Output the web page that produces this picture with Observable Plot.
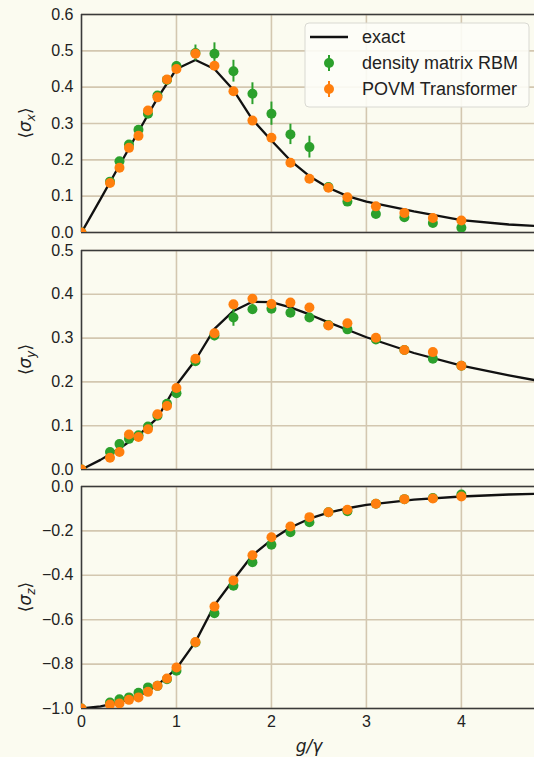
<!DOCTYPE html>
<html>
<head>
<meta charset="utf-8">
<script src="https://cdn.jsdelivr.net/npm/d3@7"></script>
<script src="https://cdn.jsdelivr.net/npm/@observablehq/plot@0.6"></script>
<style>
  html, body { margin: 0; padding: 0; background: #fbfbf0; }
  #chart { width: 534px; height: 757px; overflow: hidden; position: relative; }
  #chart svg { display: block; overflow: visible; }
</style>
</head>
<body>
<div id="chart"></div>
<script>
// ---- data ----
const xPts = [0, 0.3, 0.4, 0.5, 0.6, 0.7, 0.8, 0.9, 1.0, 1.2, 1.4, 1.6, 1.8, 2.0, 2.2, 2.4, 2.6, 2.8, 3.1, 3.4, 3.7, 4.0];
const xExact = [0, 0.2, 0.4, 0.6, 0.8, 1.0, 1.2, 1.4, 1.6, 1.8, 2.0, 2.2, 2.4, 2.6, 2.8, 3.0, 3.5, 4.0, 4.5, 5.0];

// <sigma_x>
const sxExact = [0, 0.092, 0.185, 0.278, 0.370, 0.450, 0.475, 0.450, 0.392, 0.311, 0.253, 0.198, 0.155, 0.123, 0.100, 0.085, 0.058, 0.034, 0.022, 0.015];
const sxRBM = [0, 0.140, 0.196, 0.242, 0.283, 0.327, 0.377, 0.420, 0.458, 0.494, 0.492, 0.444, 0.382, 0.327, 0.270, 0.235, 0.125, 0.085, 0.051, 0.042, 0.026, 0.013];
const sxRBMErr = [0.008, 0.01, 0.01, 0.01, 0.01, 0.01, 0.01, 0.01, 0.012, 0.022, 0.030, 0.030, 0.030, 0.032, 0.028, 0.030, 0.008, 0.008, 0.008, 0.008, 0.008, 0.008];
const sxPOVM = [0, 0.136, 0.178, 0.233, 0.266, 0.336, 0.372, 0.421, 0.450, 0.492, 0.459, 0.389, 0.308, 0.261, 0.192, 0.148, 0.123, 0.097, 0.072, 0.054, 0.040, 0.033];

// <sigma_y>
const syExact = [0, 0.022, 0.048, 0.078, 0.118, 0.193, 0.250, 0.321, 0.362, 0.383, 0.382, 0.370, 0.354, 0.336, 0.319, 0.302, 0.266, 0.237, 0.215, 0.195];
const syRBM = [0, 0.040, 0.058, 0.070, 0.078, 0.098, 0.123, 0.150, 0.174, 0.247, 0.306, 0.347, 0.366, 0.367, 0.358, 0.347, 0.330, 0.320, 0.297, 0.273, 0.253, 0.237];
const syRBMErr = [0.006, 0.008, 0.008, 0.008, 0.008, 0.008, 0.008, 0.008, 0.010, 0.010, 0.012, 0.020, 0.012, 0.010, 0.010, 0.010, 0.008, 0.008, 0.008, 0.008, 0.008, 0.008];
const syPOVM = [0, 0.027, 0.040, 0.080, 0.074, 0.092, 0.126, 0.145, 0.186, 0.253, 0.311, 0.377, 0.390, 0.378, 0.381, 0.370, 0.329, 0.334, 0.301, 0.273, 0.268, 0.237];

// <sigma_z>
const szExact = [-1.0, -0.990, -0.972, -0.945, -0.895, -0.820, -0.700, -0.535, -0.420, -0.310, -0.240, -0.185, -0.145, -0.118, -0.098, -0.083, -0.059, -0.045, -0.036, -0.030];
const szRBM = [-1.0, -0.973, -0.958, -0.950, -0.929, -0.905, -0.898, -0.868, -0.830, -0.703, -0.571, -0.447, -0.341, -0.262, -0.206, -0.161, -0.116, -0.111, -0.078, -0.057, -0.052, -0.036];
const szRBMErr = [0.01, 0.012, 0.012, 0.012, 0.012, 0.012, 0.012, 0.012, 0.012, 0.012, 0.015, 0.015, 0.015, 0.015, 0.012, 0.012, 0.01, 0.01, 0.01, 0.01, 0.01, 0.01];
const szPOVM = [-1.0, -0.982, -0.977, -0.961, -0.950, -0.925, -0.898, -0.865, -0.815, -0.701, -0.541, -0.423, -0.310, -0.229, -0.180, -0.138, -0.116, -0.105, -0.078, -0.057, -0.054, -0.045];

const xTicks = [0, 1, 2, 3, 4];
const sxTicks = [0, 0.1, 0.2, 0.3, 0.4, 0.5, 0.6];
const syTicks = [0, 0.1, 0.2, 0.3, 0.4, 0.5];
const szTicks = [-1.0, -0.8, -0.6, -0.4, -0.2, 0.0];
const legendLabels = ["exact", "density matrix RBM", "POVM Transformer"];

// ---- styles ----
const GREEN = "#2ca02c", ORANGE = "#ff7f0e";
const GRID = "#d3c7b0", FRAME = "#3a3a3a";
const FONT = "'Liberation Sans', Arial, sans-serif";

function fmt(d) { return d.toFixed(1).replace("-", "\u2212"); }

function panel({exact, rbm, rbmErr, povm, yDomain, yTicks, height, marginTop, marginBottom, showX, sub}) {
  const ex = xExact.map((x, i) => ({x, y: exact[i]}));
  const rb = xPts.map((x, i) => ({x, y: rbm[i], e: rbmErr[i]}));
  const pv = xPts.map((x, i) => ({x, y: povm[i]}));
  const svg = Plot.plot({
    width: 534, height, marginLeft: 81, marginRight: 0, marginTop, marginBottom,
    style: {background: "transparent", fontFamily: FONT, fontSize: "16px", color: "#222", overflow: "visible"},
    x: {domain: [0, 4.77], ticks: xTicks, tickSize: 0, tickPadding: 7, tickFormat: d => String(d), label: null, axis: showX ? "bottom" : null},
    y: {domain: yDomain, ticks: yTicks, tickSize: 0, tickPadding: 8, tickFormat: fmt, label: null},
    marks: [
      Plot.gridX(xTicks.filter(d => d > 0), {stroke: GRID, strokeOpacity: 1, strokeWidth: 1.6}),
      Plot.gridY(yTicks, {stroke: GRID, strokeOpacity: 1, strokeWidth: 1.6}),
      Plot.ruleX([0], {stroke: FRAME, strokeWidth: 1.6}),
      Plot.ruleY(yDomain, {stroke: FRAME, strokeWidth: 1.6}),
      Plot.line(ex, {x: "x", y: "y", stroke: "#111", strokeWidth: 2.3, clip: true}),
      Plot.ruleX(rb, {x: "x", y1: d => d.y - d.e, y2: d => d.y + d.e, stroke: GREEN, strokeWidth: 2, clip: true}),
      Plot.dot(rb, {x: "x", y: "y", r: 5, fill: GREEN, clip: true}),
      Plot.dot(pv, {x: "x", y: "y", r: 5, fill: ORANGE, clip: true})
    ]
  });
  // y-axis label  <sigma_sub>
  const top = marginTop, bottom = height - marginBottom;
  const lab = d3.select(svg).append("text")
    .attr("transform", `translate(31,${(top + bottom) / 2}) rotate(-90)`)
    .attr("text-anchor", "middle")
    .attr("font-family", "'DejaVu Sans', sans-serif")
    .attr("font-size", 17)
    .attr("fill", "#222");
  lab.append("tspan").text("\u27E8");
  lab.append("tspan").attr("font-style", "italic").text("\u03C3");
  lab.append("tspan").attr("font-style", "italic").attr("font-size", 12).attr("dy", 4).text(sub);
  lab.append("tspan").attr("dy", -4).text("\u27E9");
  return svg;
}

const root = document.getElementById("chart");

const p1 = panel({exact: sxExact, rbm: sxRBM, rbmErr: sxRBMErr, povm: sxPOVM, yDomain: [0, 0.6], yTicks: sxTicks,
  height: 241, marginTop: 14, marginBottom: 9, showX: false, sub: "x"});
const p2 = panel({exact: syExact, rbm: syRBM, rbmErr: syRBMErr, povm: syPOVM, yDomain: [0, 0.5], yTicks: syTicks,
  height: 237, marginTop: 9, marginBottom: 9, showX: false, sub: "y"});
const p3 = panel({exact: szExact, rbm: szRBM, rbmErr: szRBMErr, povm: szPOVM, yDomain: [-1, 0], yTicks: szTicks,
  height: 279, marginTop: 8, marginBottom: 49, showX: true, sub: "z"});

// legend in the first panel
{
  const g = d3.select(p1).append("g").attr("text-anchor", "start");
  g.append("rect").attr("x", 305).attr("y", 23).attr("width", 224).attr("height", 84).attr("rx", 4)
    .attr("fill", "#fdfdf7").attr("fill-opacity", 0.9).attr("stroke", "#d9d9d2").attr("stroke-width", 1);
  const rows = [37, 63, 89];
  g.append("line").attr("x1", 310).attr("x2", 348).attr("y1", rows[0]).attr("y2", rows[0])
    .attr("stroke", "#111").attr("stroke-width", 2.3);
  [[GREEN, rows[1]], [ORANGE, rows[2]]].forEach(([c, y]) => {
    g.append("line").attr("x1", 329).attr("x2", 329).attr("y1", y - 8).attr("y2", y + 8).attr("stroke", c).attr("stroke-width", 2);
    g.append("circle").attr("cx", 329).attr("cy", y).attr("r", 5).attr("fill", c);
  });
  legendLabels.forEach((t, i) => {
    g.append("text").attr("x", 362).attr("y", rows[i]).attr("dy", "0.35em").attr("text-anchor", "start")
      .attr("font-family", FONT).attr("font-size", 18).attr("fill", "#222").text(t);
  });
}

// x-axis label
d3.select(p3).append("text")
  .attr("x", 309).attr("y", 274)
  .attr("text-anchor", "middle")
  .attr("font-family", "'DejaVu Sans', sans-serif").attr("font-style", "italic")
  .attr("font-size", 17).attr("fill", "#222").text("g/\u03B3");

root.append(p1, p2, p3);
</script>
</body>
</html>
